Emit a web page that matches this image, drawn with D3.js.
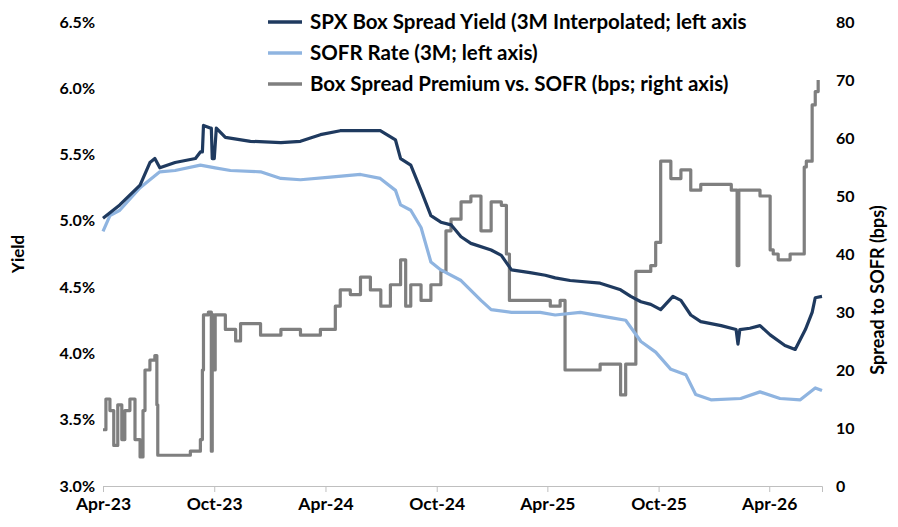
<!DOCTYPE html>
<html><head><meta charset="utf-8">
<script src="https://cdn.jsdelivr.net/npm/d3@7"></script>
<style>
body{margin:0;background:#fff;font-family:Lato,"Open Sans",sans-serif;}
text{font-weight:bold;}
</style></head>
<body><div id="viz"></div>
<script>
// months since 1 Apr 2023
const boxMonths = [0,.92,2.0,2.54,2.81,3.08,3.89,4.97,5.24,5.35,5.41,5.78,5.84,5.89,6.0,6.11,6.59,7.95,9.57,10.65,11.73,12.81,14.97,15.78,16.05,16.59,17.14,17.68,18.22,18.76,19.3,19.84,20.92,21.46,22.0,23.08,23.89,24.43,25.24,26.86,27.95,28.49,29.03,29.57,30.11,30.76,31.19,31.73,32.27,33.35,34.16,34.27,34.38,34.97,35.51,36.05,36.86,37.41,37.95,38.32,38.49,38.86];
const boxYield  = [5.02,5.12,5.27,5.44,5.47,5.40,5.44,5.47,5.52,5.52,5.72,5.70,5.70,5.47,5.47,5.70,5.63,5.60,5.59,5.60,5.65,5.68,5.68,5.61,5.47,5.42,5.23,5.04,4.99,4.97,4.88,4.83,4.78,4.74,4.63,4.61,4.59,4.57,4.55,4.53,4.48,4.43,4.39,4.37,4.33,4.43,4.40,4.29,4.24,4.21,4.18,4.07,4.18,4.19,4.21,4.14,4.06,4.03,4.18,4.31,4.42,4.43];

const sofrMonths = [0,.38,.92,2.0,2.54,3.08,3.89,5.24,6.05,6.86,8.49,9.57,10.65,12.27,13.89,14.97,15.78,16.05,16.59,17.14,17.41,17.68,18.22,19.3,20.38,20.92,22.0,23.62,24.43,25.78,27.41,28.22,29.03,29.84,30.65,31.46,32.0,32.81,34.43,35.51,36.59,37.68,38.49,38.86];
const sofrRate   = [4.92,5.04,5.08,5.25,5.31,5.37,5.38,5.42,5.40,5.38,5.37,5.32,5.31,5.33,5.35,5.32,5.23,5.12,5.08,4.95,4.82,4.69,4.63,4.55,4.40,4.33,4.31,4.31,4.29,4.31,4.27,4.25,4.09,4.01,3.88,3.84,3.69,3.65,3.66,3.71,3.66,3.65,3.74,3.72];

const premMonths = [0,.16,.38,.59,.81,1.03,1.19,1.46,1.73,2.0,2.16,2.27,2.54,2.81,2.92,2.97,3.62,4.7,5.24,5.35,5.41,5.68,5.84,5.89,6.0,6.05,6.59,7.14,7.41,8.49,9.57,10.65,11.73,12.27,12.54,12.81,13.35,13.89,14.43,15.0,15.51,16.05,16.32,16.59,17.14,17.68,18.22,18.49,18.76,19.3,19.84,20.38,20.92,21.46,21.73,21.89,22.54,23.62,24.16,24.7,24.97,26.05,26.86,27.68,27.95,28.22,28.76,29.57,29.84,30.11,30.65,31.19,31.73,32.27,33.35,33.89,34.22,34.32,34.54,35.51,35.95,36.05,36.22,36.49,37.14,37.68,37.89,38.0,38.32,38.49,38.65,38.86];
const premBps    = [9.7,15,13,7,14,8,13,15,8,5,13,20,21.7,22.5,14,5.3,5.3,6,8,20,29.5,30,6,29.5,20,29.5,27,25,28,26,27,26,27,27,31,33.8,33,36,33.8,31,34.7,39,31,34.7,32,34.7,37,44,46,49,50,44,49,48.4,40,32,32,32,31,32,20,20,21,21,15.7,21,37,38,42,56,53,54.5,51,52,52,51,38,51,51,50,50,40.7,40,39,40,40,55,56,65.7,68,70];

const xTicks = ['Apr-23','Oct-23','Apr-24','Oct-24','Apr-25','Oct-25','Apr-26'];
const leftTicks = [3.0,3.5,4.0,4.5,5.0,5.5,6.0,6.5];
const rightTicks = [0,10,20,30,40,50,60,70,80];
const legendLabels = ['SPX Box Spread Yield (3M Interpolated; left axis','SOFR Rate (3M; left axis)','Box Spread Premium vs. SOFR (bps; right axis)'];
const colors = ['#1f3a5f','#8fb4e0','#7f7f7f'];

const width = 898, height = 527;
const margin = {top: 22, right: 76, bottom: 41, left: 103};
const start = new Date(2023, 3, 1);
const toDate = m => { const whole = Math.floor(m); const d0 = d3.timeMonth.offset(start, whole); const d1 = d3.timeMonth.offset(start, whole + 1); return new Date(+d0 + (d1 - d0) * (m - whole)); };

const svg = d3.select('#viz').append('svg').attr('width', width).attr('height', height);

const x = d3.scaleTime().domain([start, toDate(38.86)]).range([margin.left, width - margin.right]);
const yL = d3.scaleLinear().domain([3.0, 6.5]).range([height - margin.bottom, margin.top]);
const yR = d3.scaleLinear().domain([0, 80]).range([height - margin.bottom, margin.top]);

const tickDates = xTicks.map((t, i) => toDate(i * 6));
svg.append('g')
    .attr('transform', `translate(0, ${height - margin.bottom})`)
    .call(d3.axisBottom(x).tickValues(tickDates).tickFormat((d, i) => xTicks[i]).tickSize(6).tickPadding(6))
    .call(g => g.selectAll('text').style('font-size', '17.5px').style('font-family', 'Lato'))
    .call(g => g.selectAll('line,path').attr('stroke', '#bfbfbf'));

svg.append('g')
    .attr('transform', `translate(${margin.left}, 0)`)
    .call(d3.axisLeft(yL).tickValues(leftTicks).tickFormat(d => d.toFixed(1) + '%').tickSize(0).tickPadding(8))
    .call(g => g.selectAll('text').style('font-size', '16px').style('font-family', 'Lato'))
    .call(g => g.select('.domain').remove());

svg.append('g')
    .attr('transform', `translate(${width - margin.right}, 0)`)
    .call(d3.axisRight(yR).tickValues(rightTicks).tickSize(0).tickPadding(14))
    .call(g => g.selectAll('text').style('font-size', '16px').style('font-family', 'Lato'))
    .call(g => g.select('.domain').remove());

svg.append('text').attr('transform', `translate(24, ${(margin.top + height - margin.bottom) / 2}) rotate(-90)`)
    .attr('text-anchor', 'middle').style('font-size', '17px').text('Yield');
svg.append('text').attr('transform', `translate(884, ${(margin.top + height - margin.bottom) / 2 + 36}) rotate(-90)`)
    .attr('text-anchor', 'middle').style('font-size', '18px').text('Spread to SOFR (bps)');

const series = [
    {m: boxMonths, v: boxYield, y: yL, curve: d3.curveLinear},
    {m: sofrMonths, v: sofrRate, y: yL, curve: d3.curveLinear},
    {m: premMonths, v: premBps, y: yR, curve: d3.curveStepAfter}
];
// draw gray first (under), then light blue, then navy
[2, 1, 0].forEach(i => {
    const s = series[i];
    const line = d3.line().x((d, j) => x(toDate(s.m[j]))).y(d => s.y(d)).curve(s.curve);
    svg.append('path').attr('d', line(s.v)).attr('fill', 'none')
        .attr('stroke', colors[i]).attr('stroke-width', 3.2).attr('stroke-linejoin', 'round');
});

const legend = svg.append('g').attr('transform', 'translate(268, 22)');
legendLabels.forEach((l, i) => {
    legend.append('line').attr('x1', 0).attr('x2', 34).attr('y1', i * 31).attr('y2', i * 31)
        .attr('stroke', colors[i]).attr('stroke-width', 3.5);
    legend.append('text').attr('x', 42).attr('y', i * 31 + 7).style('font-size', '20.5px')
        .attr('textLength', i === 1 ? null : null).text(l);
});
</script></body></html>
